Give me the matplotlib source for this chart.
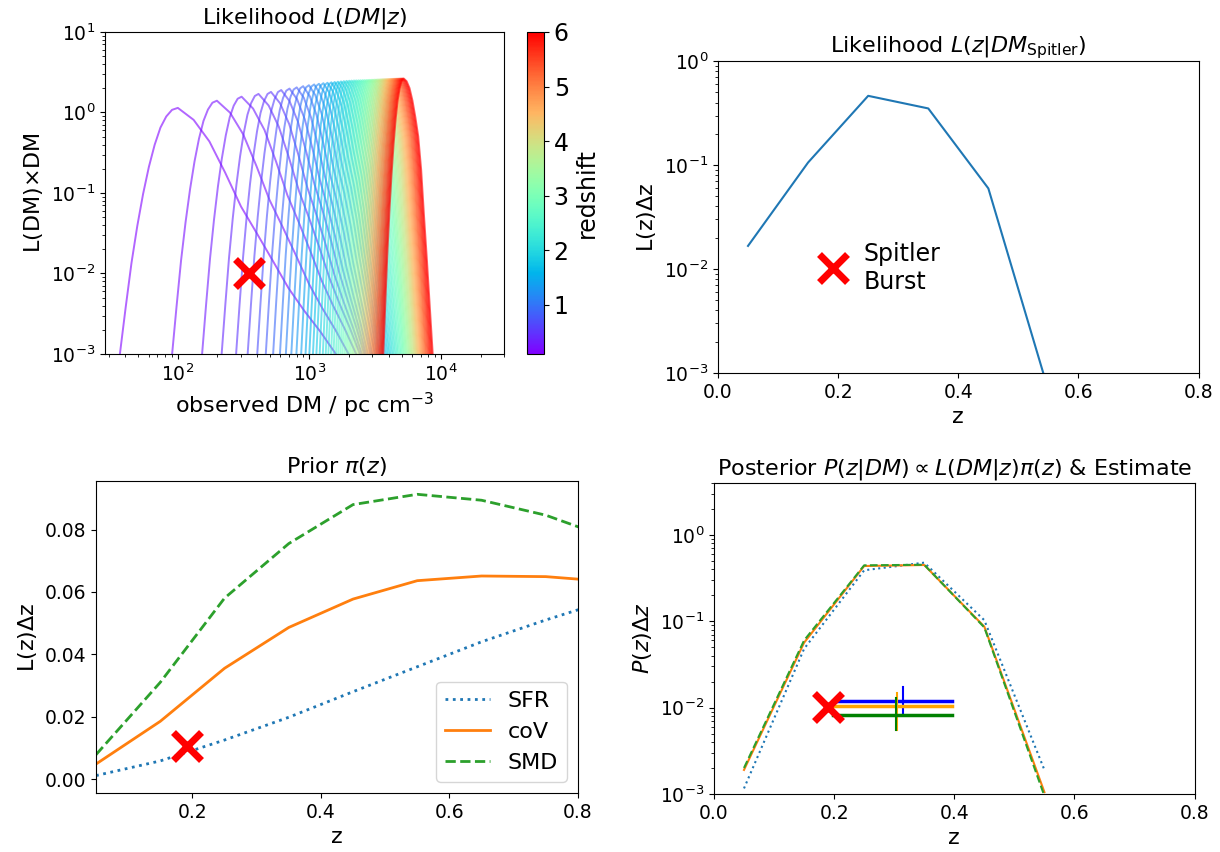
import numpy as np
import matplotlib
matplotlib.use("Agg")
import matplotlib.pyplot as plt
from matplotlib import colors, cm

plt.rcParams['font.size'] = 13.5

# --- top left: L(DM|z) family, one curve per redshift ---
redshifts = [0.1, 0.2, 0.3, 0.4, 0.5, 0.6, 0.7, 0.8, 0.9, 1.0,
             1.1, 1.2, 1.3, 1.4, 1.5, 1.6, 1.7, 1.8, 1.9, 2.0,
             2.1, 2.2, 2.3, 2.4, 2.5, 2.6, 2.7, 2.8, 2.9, 3.0,
             3.1, 3.2, 3.3, 3.4, 3.5, 3.6, 3.7, 3.8, 3.9, 4.0,
             4.1, 4.2, 4.3, 4.4, 4.5, 4.6, 4.7, 4.8, 4.9, 5.0,
             5.1, 5.2, 5.3, 5.4, 5.5, 5.6, 5.7, 5.8, 5.9, 6.0]
dm_peak = [100, 198, 305, 410, 510, 610, 705, 800, 895, 990,
           1085, 1180, 1275, 1370, 1465, 1555, 1645, 1735, 1825, 1915,
           2005, 2090, 2180, 2265, 2355, 2440, 2530, 2615, 2705, 2790,
           2870, 2955, 3035, 3120, 3200, 3280, 3365, 3445, 3530, 3610,
           3690, 3770, 3850, 3930, 4010, 4090, 4170, 4250, 4330, 4410,
           4490, 4570, 4645, 4725, 4805, 4885, 4960, 5040, 5120, 5200]
l_peak = [1.14, 1.40, 1.57, 1.70, 1.80, 1.90, 1.98, 2.05, 2.12, 2.18,
          2.23, 2.27, 2.31, 2.34, 2.37, 2.39, 2.41, 2.43, 2.45, 2.47,
          2.48, 2.49, 2.50, 2.505, 2.51, 2.515, 2.52, 2.525, 2.53, 2.535,
          2.54, 2.545, 2.55, 2.555, 2.56, 2.565, 2.57, 2.575, 2.58, 2.585,
          2.59, 2.593, 2.596, 2.60, 2.603, 2.606, 2.61, 2.613, 2.616, 2.62,
          2.622, 2.624, 2.626, 2.628, 2.63, 2.632, 2.634, 2.636, 2.638, 2.64]
# decades from the peak to the 1e-3 level, left and right side
width_left = [0.44, 0.34, 0.30, 0.28, 0.265, 0.255, 0.245, 0.235, 0.228, 0.22,
              0.215, 0.21, 0.205, 0.20, 0.196, 0.193, 0.19, 0.187, 0.184, 0.181,
              0.179, 0.177, 0.175, 0.173, 0.171, 0.170, 0.169, 0.168, 0.167, 0.166,
              0.165, 0.165, 0.164, 0.164, 0.163, 0.163, 0.162, 0.162, 0.161, 0.161,
              0.160, 0.160, 0.159, 0.159, 0.158, 0.158, 0.158, 0.157, 0.157, 0.157,
              0.156, 0.156, 0.156, 0.156, 0.155, 0.155, 0.155, 0.155, 0.155, 0.155]
width_right = [1.2, 1.0, 0.87, 0.77, 0.69, 0.63, 0.58, 0.54, 0.51, 0.48,
               0.46, 0.44, 0.42, 0.40, 0.385, 0.37, 0.36, 0.35, 0.34, 0.33,
               0.322, 0.315, 0.308, 0.302, 0.296, 0.29, 0.285, 0.28, 0.275, 0.27,
               0.266, 0.262, 0.258, 0.255, 0.252, 0.249, 0.246, 0.243, 0.241, 0.239,
               0.237, 0.235, 0.233, 0.231, 0.23, 0.229, 0.228, 0.227, 0.226, 0.225,
               0.224, 0.223, 0.222, 0.222, 0.221, 0.221, 0.22, 0.22, 0.22, 0.22]
# curve profile (fraction of width, fraction of drop)
shape_u = [0, 0.1, 0.2, 0.3, 0.4, 0.5, 0.6, 0.7, 0.8, 0.9, 1.0, 1.15]
shape_left = [0, 0.008, 0.035, 0.08, 0.15, 0.24, 0.35, 0.48, 0.63, 0.81, 1.0, 1.3]
shape_tail = [0, 0.05, 0.14, 0.27, 0.41, 0.52, 0.63, 0.74, 0.83, 0.91, 1.0, 1.12]
shape_steep = [0, 0.01, 0.035, 0.08, 0.14, 0.21, 0.33, 0.5, 0.66, 0.83, 1.0, 1.3]

spitler_dm = 348
spitler_z = 0.192

# --- top right: likelihood of z given the Spitler DM ---
z_bins = [0.05, 0.15, 0.25, 0.35, 0.45, 0.55]
like_z = [0.0167, 0.106, 0.464, 0.351, 0.0597, 0.00068]

# --- bottom left: priors ---
z_prior = [0.05, 0.15, 0.25, 0.35, 0.45, 0.55, 0.65, 0.75, 0.85]
prior_sfr = [0.0011, 0.0058, 0.0125, 0.0198, 0.0280, 0.0360, 0.0440, 0.0510, 0.0575]
prior_cov = [0.0048, 0.0185, 0.0355, 0.0486, 0.0577, 0.0636, 0.0651, 0.0649, 0.0633]
prior_smd = [0.0078, 0.031, 0.058, 0.0755, 0.088, 0.0913, 0.0894, 0.0846, 0.0772]

# --- bottom right: posteriors and estimates ---
post_sfr = [0.00116, 0.048, 0.39, 0.478, 0.103, 0.0019]
post_cov = [0.0019, 0.0565, 0.437, 0.449, 0.0867, 0.00105]
post_smd = [0.0020, 0.060, 0.445, 0.452, 0.085, 0.00095]
est_colors = ["blue", "orange", "green"]
est_level = [0.012, 0.0104, 0.0083]
est_lo = [0.198, 0.198, 0.198]
est_hi = [0.397, 0.397, 0.397]
est_z = [0.315, 0.305, 0.303]
est_bar_lo = [0.0082, 0.0055, 0.0055]
est_bar_hi = [0.0175, 0.0149, 0.0130]

fig = plt.figure(figsize=(12.2, 8.52), dpi=100)
ax1 = fig.add_axes([0.0861, 0.5845, 0.327, 0.378])
cax = fig.add_axes([0.432, 0.5845, 0.0139, 0.378])
ax2 = fig.add_axes([0.5885, 0.5622, 0.394, 0.366])
ax3 = fig.add_axes([0.0787, 0.0692, 0.395, 0.366])
ax4 = fig.add_axes([0.5852, 0.0681, 0.394, 0.365])

cmap = plt.get_cmap("rainbow")
norm = colors.Normalize(vmin=0.1, vmax=6.0)
u = np.array(shape_u)
for i, z in enumerate(redshifts):
    lp = np.log10(dm_peak[i])
    hp = np.log10(l_peak[i])
    drop = hp + 3
    mix = min(z / 3.0, 1.0)
    right = (1 - mix) * np.array(shape_tail) + mix * np.array(shape_steep)
    x = np.concatenate([lp - u[::-1] * width_left[i], lp + u[1:] * width_right[i]])
    y = np.concatenate([hp - np.array(shape_left)[::-1] * drop, hp - right[1:] * drop])
    ax1.plot(10**x, 10**y, color=cmap(norm(z)), alpha=0.6, lw=1.4)
ax1.plot(spitler_dm, 0.01, 'x', color='red', ms=20, mew=5)
ax1.set_xscale('log')
ax1.set_yscale('log')
ax1.set_xlim(28, 30000)
ax1.set_ylim(1e-3, 10)
ax1.set_title(r"Likelihood $L(DM|z)$", fontsize=16)
ax1.set_xlabel(r"observed DM / pc cm$^{-3}$", fontsize=16)
ax1.set_ylabel(r"L(DM)$\times$DM", fontsize=16)
sm = cm.ScalarMappable(norm=norm, cmap=cmap)
cbar = fig.colorbar(sm, cax=cax, ticks=[1, 2, 3, 4, 5, 6])
cbar.ax.tick_params(labelsize=17)
cbar.set_label("redshift", fontsize=17)

ax2.plot(z_bins, like_z, color="C0")
ax2.plot(spitler_z, 0.0102, 'x', color='red', ms=20, mew=5)
ax2.text(0.242, 0.0102, "Spitler\nBurst", fontsize=17, va='center', ha='left')
ax2.set_yscale('log')
ax2.set_xlim(0, 0.8)
ax2.set_ylim(1e-3, 1)
ax2.set_xticks([0.0, 0.2, 0.4, 0.6, 0.8])
ax2.set_title(r"Likelihood $L(z|DM_{\rm Spitler})$", fontsize=16)
ax2.set_xlabel("z", fontsize=16)
ax2.set_ylabel(r"L(z)$\Delta$z", fontsize=16)

ax3.plot(z_prior, prior_sfr, ':', color="C0", lw=2, label="SFR")
ax3.plot(z_prior, prior_cov, '-', color="C1", lw=2, label="coV")
ax3.plot(z_prior, prior_smd, '--', color="C2", lw=2, label="SMD")
ax3.plot(spitler_z, 0.0105, 'x', color='red', ms=20, mew=5)
ax3.set_xlim(0.05, 0.8)
ax3.set_ylim(-0.0045, 0.0955)
ax3.set_xticks([0.2, 0.4, 0.6, 0.8])
ax3.set_yticks([0.0, 0.02, 0.04, 0.06, 0.08])
ax3.set_title(r"Prior $\pi(z)$", fontsize=16)
ax3.set_xlabel("z", fontsize=16)
ax3.set_ylabel(r"L(z)$\Delta$z", fontsize=16)
ax3.legend(loc="lower right", fontsize=16)

ax4.plot(z_bins, post_sfr, ':', color="C0", lw=1.5)
ax4.plot(z_bins, post_cov, '-', color="C1", lw=1.5)
ax4.plot(z_bins, post_smd, '--', color="C2", lw=1.5)
for i in range(3):
    ax4.plot([est_lo[i], est_hi[i]], [est_level[i], est_level[i]], color=est_colors[i], lw=2.5)
    ax4.plot([est_z[i], est_z[i]], [est_bar_lo[i], est_bar_hi[i]], color=est_colors[i], lw=1.5)
ax4.plot(spitler_z - 0.003, 0.0102, 'x', color='red', ms=20, mew=5)
ax4.set_yscale('log')
ax4.set_xlim(0, 0.8)
ax4.set_ylim(1e-3, 4)
ax4.set_xticks([0.0, 0.2, 0.4, 0.6, 0.8])
ax4.set_title(r"Posterior $P(z|DM) \propto L(DM|z)\pi(z)$ & Estimate", fontsize=16)
ax4.set_xlabel("z", fontsize=16)
ax4.set_ylabel(r"$P(z)\Delta z$", fontsize=16)

for ax in [ax1, ax2, ax3, ax4]:
    ax.tick_params(labelsize=13.5)

fig.savefig("out.png", dpi=100)
